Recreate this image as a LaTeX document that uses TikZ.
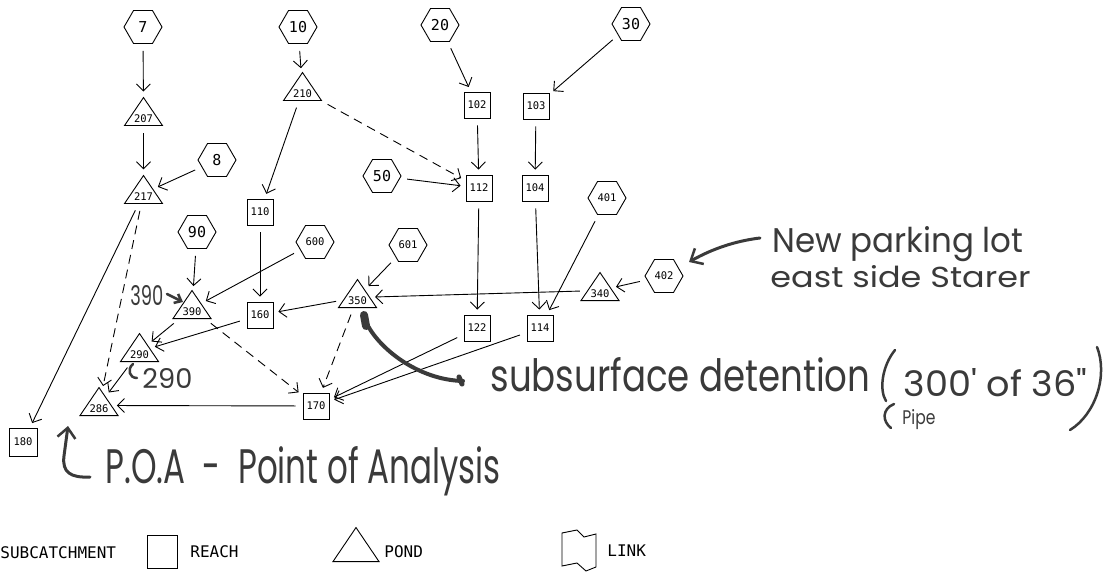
\documentclass[tikz,border=0pt]{standalone}
\usepackage{fontspec}
\usepackage{graphicx}
\usetikzlibrary{shapes.geometric,shapes.symbols,arrows.meta}
\newfontfamily\labfont{DejaVu Sans Mono}
\newfontfamily\handfont{Poppins}
\definecolor{ink}{HTML}{3A3A3A}
% handwritten text fitted to a given width and height
\newcommand\handtext[3]{\resizebox{#1pt}{#2pt}{\handfont #3}}
% a pond: empty triangle placed by the middle of its base, with its number inside
\newcommand\pondnode[3]{%
  \node[pond] (#1) at (#2) {};
  \node[pondlabel] (#1lab) at (#1.lower side) {#3};}

\begin{document}
\begin{tikzpicture}[x=1pt,y=-1pt,line width=0.9pt,
  big/.style={font=\labfont\fontsize{15}{15}\selectfont},
  small/.style={font=\labfont\fontsize{10.5}{10.5}\selectfont},
  % hexagon with points to the left and right
  sub/.style={draw, signal, signal to=east and west, signal pointer angle=120,
    minimum width=38pt, minimum height=33pt, inner sep=0pt, big},
  subs/.style={sub, small},
  reach/.style={draw, rectangle, minimum size=26pt, inner sep=0pt, small},
  pond/.style={draw, isosceles triangle, shape border rotate=90, isosceles triangle stretches,
    minimum width=38pt, minimum height=28pt, inner sep=0pt, anchor=lower side},
  pondlabel/.style={small, inner sep=0pt, anchor=south, yshift=3pt},
  flow/.style={-{Straight Barb[length=7pt,width=14pt]}, shorten <=7pt, shorten >=5pt},
  link/.style={flow, dash pattern=on 9pt off 6pt},
  legtext/.style={font=\labfont\fontsize{16}{16}\selectfont, inner sep=0pt, anchor=west},
  hand/.style={text=ink, inner sep=0pt, anchor=base west},
  handline/.style={draw=ink, line width=3pt, line cap=round, line join=round},
  handtip/.style={-{Straight Barb[length=10pt,width=18pt,line width=2.5pt]}}
]
\fill[white] (0,0) rectangle (1105,572);
\useasboundingbox (0,0) rectangle (1105,572);

% subcatchments
\node[sub]  (s7)   at (143,27)  {7};
\node[sub]  (s10)  at (298,27)  {10};
\node[sub]  (s20)  at (440,25)  {20};
\node[sub]  (s30)  at (631,24)  {30};
\node[sub]  (s8)   at (217,160) {8};
\node[sub]  (s50)  at (382,176) {50};
\node[sub]  (s90)  at (197,232) {90};
\node[subs] (s600) at (315,242) {600};
\node[subs] (s601) at (408,245) {601};
\node[subs] (s401) at (607,198) {401};
\node[subs] (s402) at (664,276) {402};

% reaches
\node[reach] (r102) at (477,105) {102};
\node[reach] (r103) at (536,106) {103};
\node[reach] (r112) at (479,188) {112};
\node[reach] (r104) at (535,188) {104};
\node[reach] (r110) at (260,212) {110};
\node[reach] (r160) at (260,315) {160};
\node[reach] (r122) at (477,328) {122};
\node[reach] (r114) at (540,328) {114};
\node[reach] (r170) at (316,406) {170};
\node[reach, minimum size=28pt] (r180) at (23,442) {180};

% ponds
\pondnode{p207}{143.5,126}{207}
\pondnode{p210}{302.5,101}{210}
\pondnode{p217}{143.5,204}{217}
\pondnode{p390}{192,319}{390}
\pondnode{p290}{139.5,362}{290}
\pondnode{p286}{99,416}{286}
\pondnode{p350}{357.5,308}{350}
\pondnode{p340}{600,301}{340}

% routing
\draw[flow] (s7) -- (p207);
\draw[flow] (p207) -- (p217);
\draw[flow] (s10) -- (p210);
\draw[flow] (s8) -- (p217);
\draw[flow] (p210) -- (r110);
\draw[link] (p210) -- (r112);
\draw[flow] (s20) -- (r102);
\draw[flow] (s30) -- (r103);
\draw[flow] (r102) -- (r112);
\draw[flow] (r103) -- (r104);
\draw[flow] (s50) -- (r112);
\draw[flow] (r112) -- (r122);
\draw[flow] (r104) -- (r114);
\draw[flow] (s401) -- (r114);
\draw[flow] (s402) -- (p340);
\draw[flow] (p340) -- (p350);
\draw[flow] (s601) -- (p350);
\draw[flow] (r110) -- (r160);
\draw[flow] (s600) -- (p390);
\draw[flow] (s90) -- (p390);
\draw[flow] (p350) -- (r160);
\draw[flow] (p390) -- (p290);
\draw[flow] (r160) -- (p290);
\draw[link] (p390) -- (r170);
\draw[link] (p350) -- (r170);
\draw[flow] (r122) -- (r170);
\draw[flow] (r114) -- (r170);
\draw[flow] (r170) -- (p286);
\draw[flow] (p217) -- (r180);
\draw[link] (p217) -- (p286);
\draw[flow] (p290) -- (p286);

% handwritten notes
\node[hand] (newlot)  at (772,252) {\handtext{251}{26}{New parking lot}};
\node[hand] (eastsd)  at (770,287) {\handtext{260}{22}{east side Starer}};
\node[hand] (subsurf) at (490,391) {\handtext{380}{34}{subsurface detention}};
\node[hand] (pipelen) at (903,396) {\handtext{184}{28}{300' of 36"}};
\node[hand] (pipe)    at (902,424) {\handtext{33}{15}{Pipe}};
\node[hand] (poa)     at (105,483) {\handtext{395}{37}{P.O.A\ \ -\ \ Point of Analysis}};
\node[hand] (n390)    at (130,305) {\handtext{33}{20}{390}};
\node[hand] (n290)    at (142,388) {\handtext{50}{20}{290}};

\coordinate (lotstart) at (760,238);
\coordinate (lottip)   at (689,262);
\draw[handline, handtip] (lotstart) .. controls (735,241) and (712,249) .. (lottip);

\coordinate (n390a) at (167,294);
\coordinate (n390b) at (183,302);
\draw[handline, line width=2.5pt, -{Straight Barb[length=6pt,width=10pt]}] (n390a) -- (n390b);

\coordinate (hk1) at (133,364);
\coordinate (hk2) at (137,378);
\draw[handline, line width=2.5pt] (hk1) .. controls (127,369) and (129,378) .. (hk2);

\coordinate (poastart) at (90,477);
\coordinate (poatip)   at (68,426);
\draw[handline, handtip] (poastart) .. controls (70,478) and (62,472) .. (64,456) -- (poatip);

\coordinate (subtail) at (463,381);
\coordinate (subhead) at (366,322);
\draw[handline, line width=4pt] (subtail) .. controls (418,380) and (378,348) .. (subhead);
\draw[handline, line width=8pt] (364,315) -- (366,326);
\draw[handline, line width=5pt] (459,377) -- (462,384);

% brackets round the pipe note
\draw[handline, line width=2.5pt] (895,350) .. controls (882,366) and (879,390) .. (886,401);
\draw[handline, line width=2.5pt] (894,404) .. controls (882,409) and (882,421) .. (891,428);
\draw[handline, line width=2.5pt] (1097,347) .. controls (1108,375) and (1096,414) .. (1070,430);

% legend
\node[legtext] (lsub) at (0,553) {SUBCATCHMENT};
\node[reach, minimum width=30pt, minimum height=33pt] (lreach) at (162,551.5) {};
\node[legtext] (lreacht) at (190,552) {REACH};
\node[pond, minimum width=46pt, minimum height=34pt] (lpond) at (356,562) {};
\node[legtext] (lpondt) at (384,552) {POND};
\draw (562,533) -- (577,530) -- (584,537) -- (596,534) -- (596,567) -- (586,571)
      -- (577,563) -- (562,566) -- cycle;
\node[legtext] (llinkt) at (607,551) {LINK};
\end{tikzpicture}
\end{document}
